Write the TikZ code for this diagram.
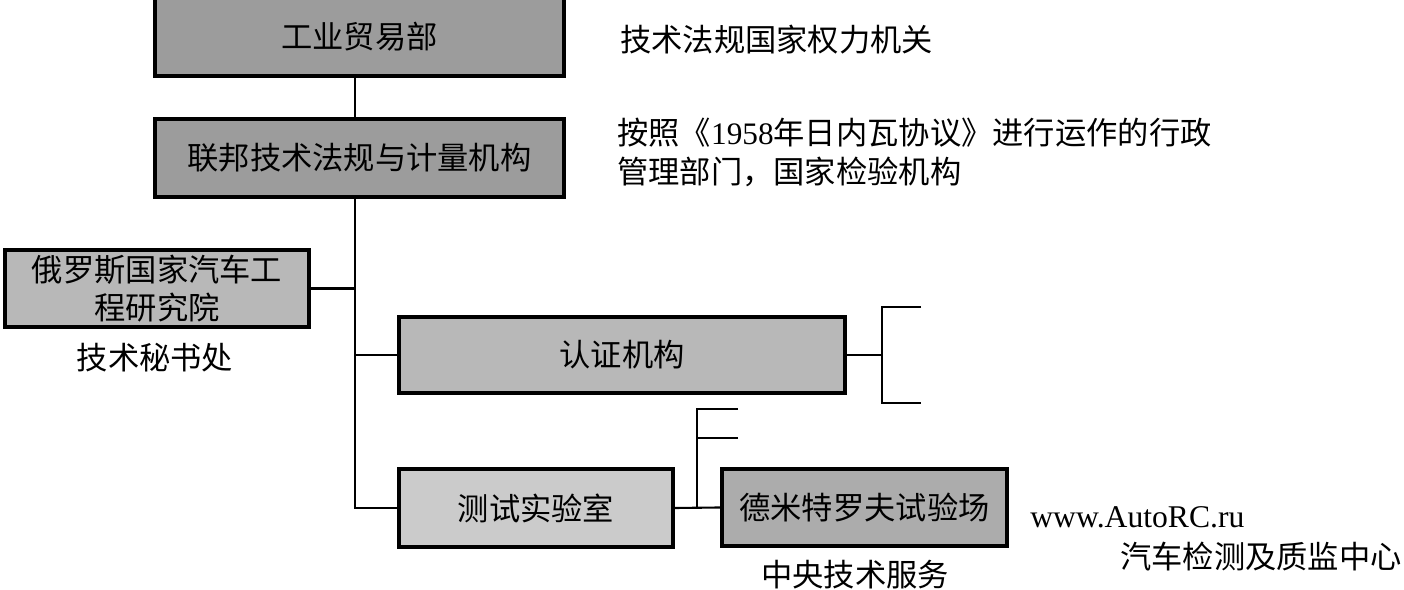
\documentclass[tikz,border=0pt]{standalone}
\usepackage{xcolor}
\definecolor{boxdark}{RGB}{156,156,156}
\definecolor{boxmid}{RGB}{184,184,184}
\definecolor{boxlight}{RGB}{203,203,203}
\definecolor{boxfield}{RGB}{172,172,172}
\usepackage{fontspec}
\setmainfont{Liberation Serif}
\newfontfamily\cjk{Noto Sans CJK SC}
\usepackage{tikz}
\usetikzlibrary{positioning, calc}
\tikzset{
  orgbox/.style={
    rectangle, draw=black, line width=2.3pt,
    inner sep=0pt, align=center,
    font=\cjk\fontsize{17.8}{21.5}\selectfont
  },
  note/.style={
    inner sep=0pt, align=left,
    font=\cjk\fontsize{17.8}{22.3}\selectfont
  },
  link/.style={line width=1.2pt, color=black},
}

\begin{document}
\begin{tikzpicture}[x=0.02cm, y=-0.02cm]
  \useasboundingbox (0,0) rectangle (1404,590);

  \node (ministry) [orgbox, fill=boxdark,  minimum width=8.18cm, minimum height=1.58cm] at (359.5,36.5) {工业贸易部};
  \node (agency)   [orgbox, fill=boxdark,  minimum width=8.18cm, minimum height=1.56cm] at (359.5,158) {联邦技术法规与计量机构};
  \node (nami)     [orgbox, fill=boxmid,   minimum width=6.08cm, minimum height=1.54cm] at (157,288.5) {俄罗斯国家汽车工\\程研究院};
  \node (cert)     [orgbox, fill=boxmid,   minimum width=8.92cm, minimum height=1.52cm] at (622,355)   {认证机构};
  \node (lab)      [orgbox, fill=boxlight, minimum width=5.48cm, minimum height=1.56cm] at (536,508)   {测试实验室};
  \node (field)    [orgbox, fill=boxfield, minimum width=5.70cm, minimum height=1.54cm] at (864.5,507.5) {德米特罗夫试验场};

  % notes beside the boxes
  \node (power)  [note, anchor=west] at (620,40)  {技术法规国家权力机关};
  \node (geneva) [note, anchor=west] at (617,152.5) {按照《{\rmfamily 1958}年日内瓦协议》进行运作的行政\\管理部门，国家检验机构};
  \node (secr)   [note] at (155,358) {技术秘书处};
  \node (central)[note] at (855,575) {中央技术服务};
  \node (site)   [note, anchor=west, font=\rmfamily\fontsize{18}{21}\selectfont] at (1030,517) {www.AutoRC.ru};
  \node (center) [note, anchor=east] at (1402,557) {汽车检测及质监中心};

  % trunk
  \coordinate (trunk) at (355,0);
  \draw [link] (ministry.south -| trunk) -- (agency.north -| trunk);
  \draw [link] (agency.south -| trunk) |- (lab.west);
  \draw [link] (nami.east) -- (nami.east -| trunk);
  \draw [link] (cert.west) -- (cert.west -| trunk);

  % open fork right of the certification box
  \coordinate (certfork) at (882,355);
  \coordinate (certtop)  at (921,307);
  \coordinate (certbot)  at (921,403);
  \draw [link] (cert.east) -- (certfork);
  \draw [link] (certtop) -| (certfork) |- (certbot);

  % lab to proving ground, with open fork above
  \coordinate (labfork) at (697,508);
  \coordinate (labtop)  at (738,409);
  \coordinate (labmid)  at (738,438);
  \draw [link] (lab.east) -- (field.west);
  \draw [link] (labtop) -| (labfork);
  \draw [link] (labmid) -- (labmid -| labfork);
\end{tikzpicture}
\end{document}
